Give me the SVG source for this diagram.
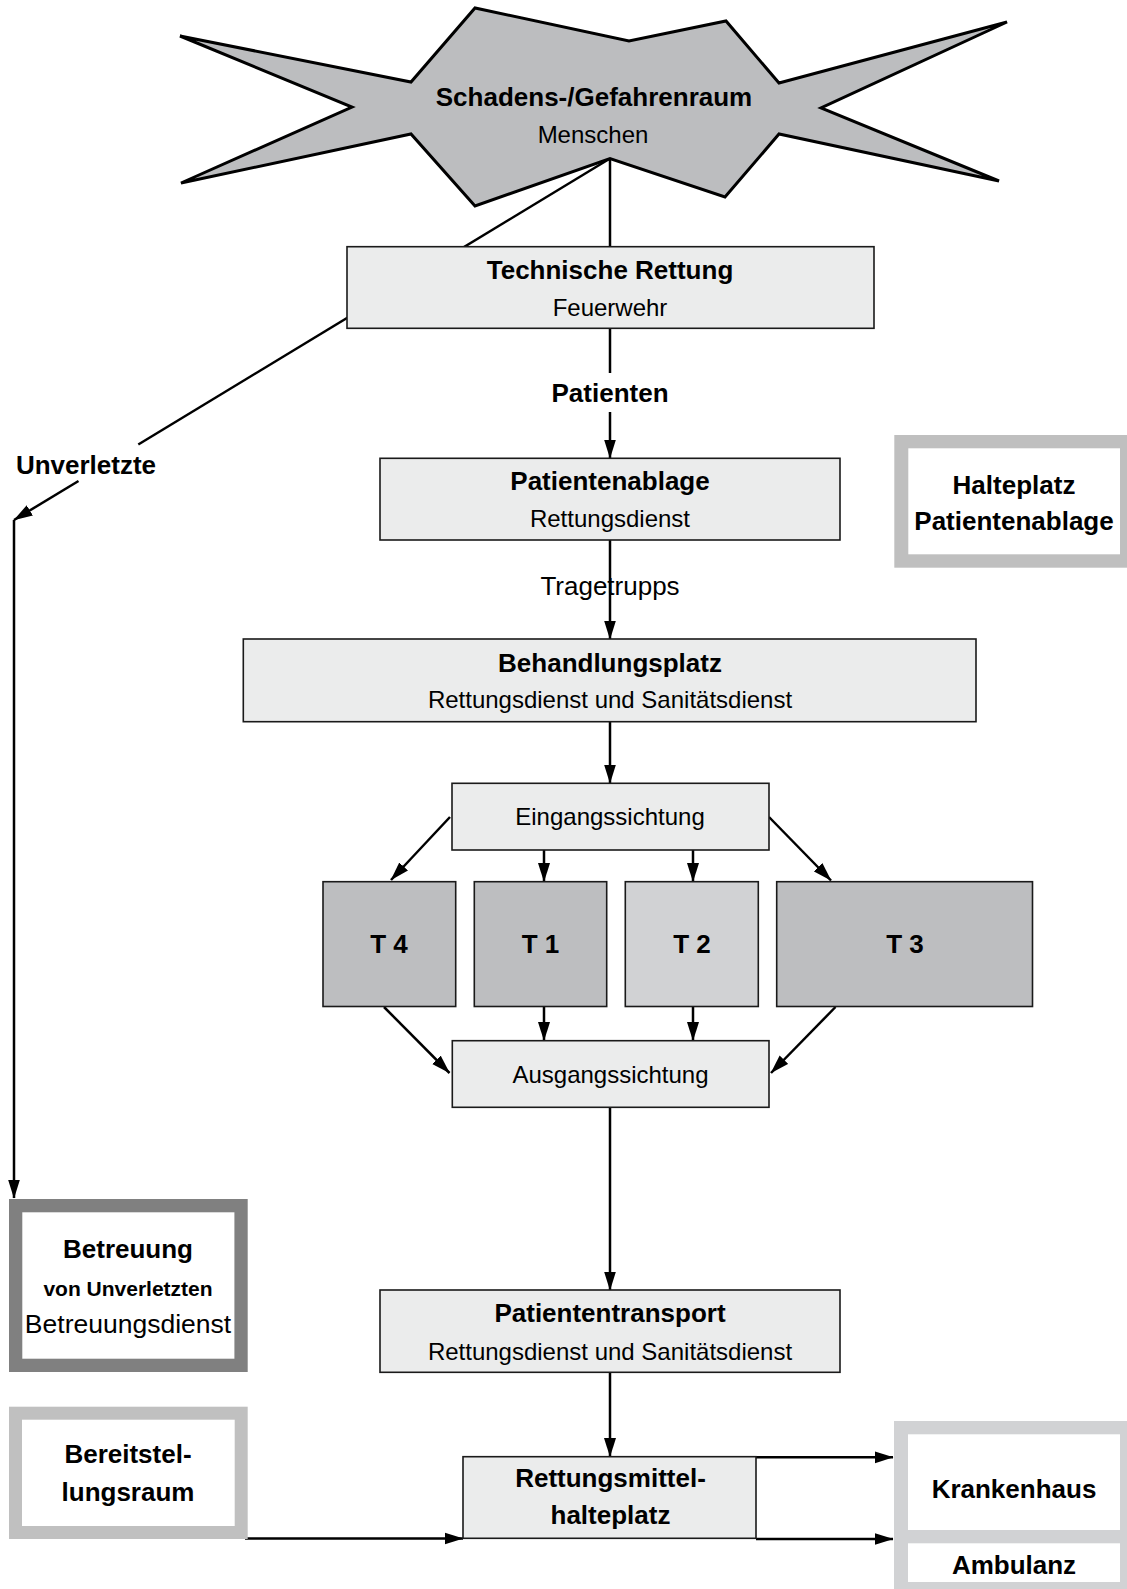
<svg xmlns="http://www.w3.org/2000/svg" width="1127" height="1589" viewBox="0 0 1127 1589">
<defs>
<style>
text{font-family:"Liberation Sans",Arial,Helvetica,sans-serif;fill:#000;text-anchor:middle}
.b{font-weight:bold;font-size:26px}
.r{font-size:24px}
.box{fill:#EBECEC;stroke:#1a1a1a;stroke-width:1.6}
.tbox{fill:#BDBEC0;stroke:#1a1a1a;stroke-width:1.6}
.tlight{fill:#D1D2D4;stroke:#1a1a1a;stroke-width:1.6}
.c{fill:none;stroke:#000;stroke-width:2.5}
.a{marker-end:url(#arr)}
</style>
<marker id="arr" markerUnits="userSpaceOnUse" markerWidth="19" markerHeight="13" refX="18.5" refY="6.5" orient="auto">
<path d="M0,0.5 L19,6.5 L0,12.5 z" fill="#000"/>
</marker>
</defs>
<rect width="1127" height="1589" fill="#fff"/>

<g id="connectors">
<line class="c" x1="610" y1="158.5" x2="610" y2="247"/>
<line class="c" x1="610" y1="158.5" x2="138.3" y2="444.5"/>
<line class="c a" x1="78.5" y1="481" x2="14" y2="520"/>
<line class="c a" x1="14" y1="520" x2="14" y2="1198"/>
<line class="c" x1="610" y1="328" x2="610" y2="373"/>
<line class="c a" x1="610" y1="412" x2="610" y2="458"/>
<line class="c a" x1="610" y1="540" x2="610" y2="639"/>
<line class="c a" x1="610" y1="722" x2="610" y2="783"/>
<line class="c a" x1="450" y1="817" x2="391" y2="880"/>
<line class="c a" x1="544" y1="850" x2="544" y2="881.5"/>
<line class="c a" x1="693" y1="850" x2="693" y2="881.5"/>
<line class="c a" x1="769" y1="817" x2="831" y2="880.5"/>
<line class="c a" x1="384" y1="1007" x2="449.5" y2="1073"/>
<line class="c a" x1="544" y1="1007" x2="544" y2="1040.5"/>
<line class="c a" x1="693" y1="1007" x2="693" y2="1040.5"/>
<line class="c a" x1="835.5" y1="1007" x2="771" y2="1073"/>
<line class="c a" x1="610" y1="1107" x2="610" y2="1290"/>
<line class="c a" x1="610" y1="1372" x2="610" y2="1456.5"/>
<line class="c a" x1="756" y1="1457.3" x2="893" y2="1457.3"/>
<line class="c a" x1="756" y1="1539" x2="893" y2="1539"/>
<line class="c a" x1="245" y1="1538.5" x2="463" y2="1538.5"/>
</g>

<g id="label-unverletzte"><text class="b" x="86" y="474">Unverletzte</text></g>
<g id="label-patienten"><text class="b" x="610" y="402">Patienten</text></g>
<g id="label-tragetrupps"><text x="610" y="595" style="font-size:26px">Tragetrupps</text></g>

<g id="schadensraum">
<polygon points="180,36 411,82 475,8 629,41 726,21 779,83 1007,22 821,108 999,181 779,134 725,197 610,158.5 475,206 411,134 181,183 352,107" fill="#BCBDBF" stroke="#000" stroke-width="3" stroke-linejoin="miter"/>
<text class="b" x="594" y="106">Schadens-/Gefahrenraum</text>
<text class="r" x="593" y="143">Menschen</text>
</g>

<g id="technische-rettung">
<rect class="box" x="347" y="246.7" width="527" height="81.6"/>
<text class="b" x="610" y="279">Technische Rettung</text>
<text class="r" x="610" y="316">Feuerwehr</text>
</g>

<g id="patientenablage">
<rect class="box" x="380" y="458.3" width="460" height="81.7"/>
<text class="b" x="610" y="490">Patientenablage</text>
<text class="r" x="610" y="527.3">Rettungsdienst</text>
</g>

<g id="halteplatz">
<rect x="894.3" y="435" width="232.7" height="132.7" fill="#BFBFBF"/>
<rect x="908.3" y="448.3" width="211.7" height="106" fill="#fff"/>
<text class="b" x="1014" y="494">Halteplatz</text>
<text class="b" x="1014" y="530">Patientenablage</text>
</g>

<g id="behandlungsplatz">
<rect class="box" x="243.3" y="639" width="732.7" height="82.7"/>
<text class="b" x="610" y="671.7">Behandlungsplatz</text>
<text class="r" x="610" y="708.3">Rettungsdienst und Sanitätsdienst</text>
</g>

<g id="eingangssichtung">
<rect class="box" x="452" y="783.3" width="317" height="66.7"/>
<text class="r" x="610" y="825">Eingangssichtung</text>
</g>

<g id="t4">
<rect class="tbox" x="323" y="881.7" width="132.7" height="124.8"/>
<text class="b" x="389" y="953">T 4</text>
</g>
<g id="t1">
<rect class="tbox" x="474.3" y="881.7" width="132.4" height="124.8"/>
<text class="b" x="540.5" y="953">T 1</text>
</g>
<g id="t2">
<rect class="tlight" x="625.3" y="881.7" width="133" height="124.8"/>
<text class="b" x="692" y="953">T 2</text>
</g>
<g id="t3">
<rect class="tbox" x="776.7" y="881.7" width="255.8" height="124.8"/>
<text class="b" x="905" y="953">T 3</text>
</g>

<g id="ausgangssichtung">
<rect class="box" x="452.3" y="1040.7" width="316.7" height="66.6"/>
<text class="r" x="610.5" y="1083.3">Ausgangssichtung</text>
</g>

<g id="betreuung">
<rect x="15.65" y="1205.65" width="225.4" height="159.7" fill="#fff" stroke="#808080" stroke-width="13.3"/>
<text class="b" x="128" y="1258">Betreuung</text>
<text x="128" y="1296" style="font-weight:bold;font-size:21px">von Unverletzten</text>
<text x="128" y="1333" style="font-size:26.5px">Betreuungsdienst</text>
</g>

<g id="patiententransport">
<rect class="box" x="380" y="1290" width="460" height="82.3"/>
<text class="b" x="610" y="1321.7">Patiententransport</text>
<text class="r" x="610" y="1360">Rettungsdienst und Sanitätsdienst</text>
</g>

<g id="bereitstellungsraum">
<rect x="15.5" y="1413.2" width="225.7" height="119.3" fill="#fff" stroke="#C0C0C0" stroke-width="13"/>
<text class="b" x="128" y="1463.3">Bereitstel-</text>
<text class="b" x="128" y="1500.7">lungsraum</text>
</g>

<g id="rettungsmittelhalteplatz">
<rect class="box" x="463" y="1456.7" width="293" height="81.6"/>
<text class="b" x="610.5" y="1487.3">Rettungsmittel-</text>
<text class="b" x="610.5" y="1524">halteplatz</text>
</g>

<g id="krankenhaus">
<rect x="894" y="1421" width="233" height="168" fill="#D1D2D4"/>
<rect x="908" y="1434.3" width="212" height="95.7" fill="#fff"/>
<rect x="908" y="1543.3" width="212" height="38.7" fill="#fff"/>
<text class="b" x="1014" y="1498.3">Krankenhaus</text>
<text class="b" x="1014" y="1574">Ambulanz</text>
</g>
</svg>
